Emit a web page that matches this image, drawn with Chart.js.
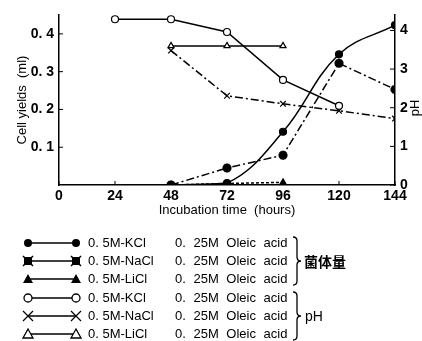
<!DOCTYPE html>
<html>
<head>
<meta charset="utf-8">
<script src="https://cdn.jsdelivr.net/npm/chart.js@4/dist/chart.umd.min.js"></script>
<style>
  body { margin: 0; background: #fff; font-family: "Liberation Sans", Arial, sans-serif; }
  #wrap { position: relative; width: 422px; height: 341px; }
  #chart { position: absolute; left: 0; top: 0; }
  .legend { position: absolute; left: 0; top: 0; width: 422px; height: 341px; }
  .row { position: absolute; left: 0; height: 18px; font-size: 13px; line-height: 18px; color: #000; }
  .row svg { position: absolute; left: 22px; top: 0; }
  .salt { position: absolute; left: 88px; white-space: nowrap; }
  .acid { position: absolute; left: 175px; white-space: nowrap; word-spacing: 4px; }
  .group { position: absolute; font-size: 14px; color: #000; }
</style>
</head>
<body>
<div id="wrap">
  <canvas id="chart" width="422" height="222"></canvas>
  <div class="legend" id="legend"></div>
</div>
<script>
const hours = [24, 48, 72, 96, 120, 144];
const xTicks = [0, 24, 48, 72, 96, 120, 144];
const cellTicks = [0.1, 0.2, 0.3, 0.4];
const phTicks = [0, 1, 2, 3, 4];

// cell yields (ml), filled markers
const cellKCl = [null, 0, 0.005, 0.141, 0.346, 0.423];
const cellNaCl = [null, 0, 0.045, 0.079, 0.322, 0.253];
const cellLiCl = [null, 0, 0.004, 0.007, null, null];

// pH, open markers
const phKCl = [4.29, 4.29, 3.96, 2.72, 2.05, null];
const phNaCl = [null, 3.48, 2.31, 2.1, 1.92, 1.72];
const phLiCl = [null, 3.6, 3.6, 3.6, null, null];

const salts = ["0. 5M-KCl", "0. 5M-NaCl", "0. 5M-LiCl", "0. 5M-KCl", "0. 5M-NaCl", "0. 5M-LiCl"];

const toPoints = (arr) => hours.map((h, i) => ({ x: h, y: arr[i] })).filter((p) => p.y !== null);

const tickFont = { family: "'Liberation Sans Narrow', 'Liberation Sans', Arial", size: 14, weight: "bold" };
const titleFont = { family: "'Liberation Sans', Arial", size: 13 };

const insideTicks = {
  id: "insideTicks",
  afterDraw(chart) {
    const { ctx, scales } = chart;
    const x = scales.x, y = scales.y, y1 = scales.y1;
    ctx.save();
    ctx.strokeStyle = "#000";
    ctx.lineWidth = 1;
    ctx.beginPath();
    x.ticks.forEach((t) => {
      const px = x.getPixelForValue(t.value);
      ctx.moveTo(px, x.top);
      ctx.lineTo(px, x.top - 4);
    });
    y.ticks.forEach((t) => {
      const py = y.getPixelForValue(t.value);
      ctx.moveTo(y.right, py);
      ctx.lineTo(y.right + 4, py);
    });
    y1.ticks.forEach((t) => {
      const py = y1.getPixelForValue(t.value);
      ctx.moveTo(y1.left, py);
      ctx.lineTo(y1.left - 5, py);
    });
    ctx.stroke();
    // right axis title, reads bottom to top
    ctx.translate(415, (y1.top + y1.bottom) / 2 + 8);
    ctx.rotate(-Math.PI / 2);
    ctx.font = "13px 'Liberation Sans', Arial";
    ctx.fillStyle = "#000";
    ctx.textAlign = "center";
    ctx.textBaseline = "middle";
    ctx.fillText("pH", 0, 0);
    ctx.restore();
  },
};

const ds = (label, data, axis, style, filled, dash, tension) => ({
  label,
  data: toPoints(data),
  yAxisID: axis,
  borderColor: "#000",
  backgroundColor: filled ? "#000" : "#fff",
  pointBorderColor: "#000",
  pointBackgroundColor: filled ? "#000" : "#fff",
  pointStyle: style,
  pointRadius: style === "crossRot" ? 4 : style === "star" ? 4.5 : 3.5,
  pointBorderWidth: filled && style === "star" ? 3 : 1.2,
  borderWidth: 1.5,
  borderDash: dash,
  tension: tension || 0,
  fill: false,
});

new Chart(document.getElementById("chart"), {
  type: "line",
  data: {
    datasets: [
      ds("0.5M-KCl cell", cellKCl, "y", "circle", true, [], 0.4),
      ds("0.5M-NaCl cell", cellNaCl, "y", "star", true, [8, 3, 2, 3]),
      ds("0.5M-LiCl cell", cellLiCl, "y", "triangle", true, [3, 2]),
      ds("0.5M-KCl pH", phKCl, "y1", "circle", false, []),
      ds("0.5M-NaCl pH", phNaCl, "y1", "crossRot", false, [8, 3, 2, 3]),
      ds("0.5M-LiCl pH", phLiCl, "y1", "triangle", false, []),
    ],
  },
  options: {
    responsive: false,
    animation: false,
    layout: { padding: { top: 15, left: 0, right: 0, bottom: 0 } },
    plugins: { legend: { display: false }, tooltip: { enabled: false } },
    scales: {
      x: {
        type: "linear",
        min: 0,
        max: 144,
        afterBuildTicks: (s) => { s.ticks = xTicks.map((v) => ({ value: v })); },
        afterFit: (s) => { s.height = 37; },
        grid: { display: false, drawTicks: false },
        border: { color: "#000", width: 1.5 },
        ticks: { color: "#000", font: tickFont, padding: 3, maxRotation: 0 },
        title: { display: true, text: "Incubation time  (hours)", color: "#000", font: titleFont, padding: { top: 0, bottom: 4 } },
      },
      y: {
        position: "left",
        min: 0,
        max: 0.45,
        afterBuildTicks: (s) => { s.ticks = cellTicks.map((v) => ({ value: v })); },
        afterFit: (s) => { s.width = 59; },
        grid: { display: false, drawTicks: false },
        border: { color: "#000", width: 1.5 },
        ticks: { color: "#000", font: tickFont, padding: 5, callback: (v) => v.toFixed(1).replace(".", ". ") },
        title: { display: true, text: "Cell yields  (ml)", color: "#000", font: titleFont, padding: { top: 15, bottom: 0 } },
      },
      y1: {
        position: "right",
        min: 0,
        max: 4.4,
        afterBuildTicks: (s) => { s.ticks = phTicks.map((v) => ({ value: v })); },
        afterFit: (s) => { s.width = 27; },
        grid: { display: false, drawTicks: false },
        border: { color: "#000", width: 1.5 },
        ticks: { color: "#000", font: tickFont, padding: 5 },
      },
    },
  },
  plugins: [insideTicks],
});

// legend below the plot
const legend = document.getElementById("legend");
const rowTops = [234, 252, 270, 289, 307, 325];
const marker = (i, cx) => {
  const cy = 9;
  if (i === 0) return `<circle cx="${cx}" cy="${cy}" r="4" fill="#000"/>`;
  if (i === 3) return `<circle cx="${cx}" cy="${cy}" r="4" fill="#fff" stroke="#000" stroke-width="1.3"/>`;
  if (i === 2) return `<polygon points="${cx - 5},${cy + 4} ${cx + 5},${cy + 4} ${cx},${cy - 5}" fill="#000"/>`;
  if (i === 5) return `<polygon points="${cx - 5},${cy + 4} ${cx + 5},${cy + 4} ${cx},${cy - 5}" fill="#fff" stroke="#000" stroke-width="1.3"/>`;
  if (i === 1) return `<rect x="${cx - 4}" y="${cy - 4}" width="8" height="8" fill="#000"/><path d="M${cx - 5} ${cy - 5}L${cx + 5} ${cy + 5}M${cx + 5} ${cy - 5}L${cx - 5} ${cy + 5}" stroke="#000" stroke-width="1.5"/>`;
  return `<path d="M${cx - 5} ${cy - 5}L${cx + 5} ${cy + 5}M${cx + 5} ${cy - 5}L${cx - 5} ${cy + 5}" stroke="#000" stroke-width="1.2"/>`;
};
salts.forEach((s, i) => {
  const row = document.createElement("div");
  row.className = "row";
  row.style.top = rowTops[i] + "px";
  row.innerHTML =
    `<svg width="60" height="18"><line x1="6" y1="9" x2="54" y2="9" stroke="#000" stroke-width="1.5"/>${marker(i, 6)}${marker(i, 54)}</svg>` +
    `<span class="salt">${s}</span><span class="acid">0. 25M Oleic acid</span>`;
  legend.appendChild(row);
});
const braces = document.createElementNS("http://www.w3.org/2000/svg", "svg");
braces.setAttribute("width", "422");
braces.setAttribute("height", "341");
braces.style.position = "absolute";
braces.style.left = "0";
braces.style.top = "0";
braces.innerHTML =
  '<path d="M293 237 Q297 237 297 241 L297 257 Q297 261 301 261 Q297 261 297 265 L297 281 Q297 285 293 285" fill="none" stroke="#000" stroke-width="1.3"/>' +
  '<path d="M293 292 Q297 292 297 296 L297 312 Q297 316 301 316 Q297 316 297 320 L297 336 Q297 340 293 340" fill="none" stroke="#000" stroke-width="1.3"/>';
legend.appendChild(braces);
const g1 = document.createElement("div");
g1.className = "group";
g1.style.left = "304px";
g1.style.top = "252px";
g1.style.fontWeight = "bold";
g1.style.fontFamily = "'Noto Sans CJK JP', sans-serif";
g1.style.lineHeight = "18px";
g1.textContent = "菌体量";
legend.appendChild(g1);
const g2 = document.createElement("div");
g2.className = "group";
g2.style.left = "305px";
g2.style.top = "307px";
g2.style.lineHeight = "18px";
g2.textContent = "pH";
legend.appendChild(g2);
</script>
</body>
</html>
